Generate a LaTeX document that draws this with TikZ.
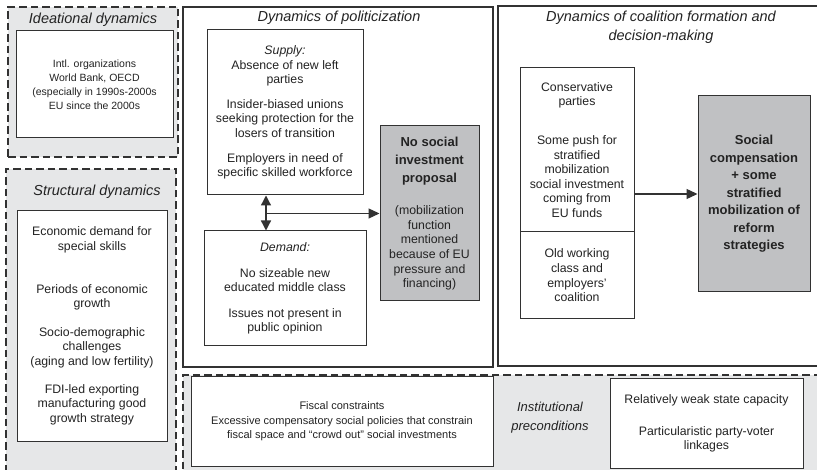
\documentclass[tikz,border=0pt]{standalone}
\usepackage{fontspec}
\setmainfont{Liberation Sans}
\usetikzlibrary{arrows.meta}
\definecolor{panelgray}{RGB}{230,231,232}
\definecolor{boxgray}{RGB}{192,193,195}
\definecolor{edgegray}{RGB}{50,50,50}
\definecolor{inkgray}{RGB}{35,35,35}
\newcommand{\bigbf}[1]{{\bfseries\fontsize{13}{17.5}\selectfont #1}}
\tikzset{
  panel/.style={draw=edgegray, line width=1.1pt, dash pattern=on 7.5pt off 4pt, fill=panelgray},
  frame/.style={draw=edgegray, line width=1.1pt, fill=white},
  box/.style={draw=edgegray, line width=1pt, fill=white, text=inkgray, align=center, inner sep=2pt, font=\fontsize{12.3}{14.6}\selectfont},
  result/.style={box, fill=boxgray},
  title/.style={text=inkgray, align=center, font=\itshape\fontsize{14.5}{19}\selectfont},
  flow/.style={draw=edgegray, line width=1.3pt, -{Triangle[length=11pt,width=10pt]}},
  link/.style={draw=edgegray, line width=1.3pt, {Triangle[length=10pt,width=10pt]}-{Triangle[length=10pt,width=10pt]}},
}

\begin{document}
\begin{tikzpicture}[x=1pt, y=-1pt]
    \useasboundingbox (0,0) rectangle (817,470);
    \node[panel, minimum width=170pt, minimum height=150pt] (ideational) at (93,82) {};
    \node[panel, minimum width=170pt, minimum height=330pt] (structural) at (91,334) {};
    \node[panel, minimum width=650pt, minimum height=120pt] (institutional) at (508,435) {};
    \node[frame, minimum width=310pt, minimum height=360pt] (politicization) at (338,187) {};
    \node[frame, minimum width=326pt, minimum height=360pt] (coalition) at (661,186) {};

    \node[title] (ideatitle) at (93,20) {Ideational dynamics};
    \node[title] (structtitle) at (97,192) {Structural dynamics};
    \node[title] (polititle) at (339,18) {Dynamics of politicization};
    \node[title] (coaltitle) at (661,27.5) {Dynamics of coalition formation and\\ decision-making};
    \node[title, font=\itshape\fontsize{13}{19}\selectfont] (insttitle) at (550,417.5) {Institutional\\ preconditions};

    \node[box, font=\fontsize{10.5}{14}\selectfont, minimum width=157pt, minimum height=107pt] (intlorg) at (94.5,84.5) {Intl. organizations\\ World Bank, OECD\\ (especially in 1990s-2000s\\ EU since the 2000s};
    \node[box, minimum width=150pt, minimum height=230pt] (skills) at (92,326) {Economic demand for\\ special skills\\[28pt] Periods of economic\\ growth\\[14pt] Socio-demographic\\ challenges\\ (aging and low fertility)\\[13pt] FDI-led exporting\\ manufacturing good\\ growth strategy};

    \node[box, minimum width=156pt, minimum height=165pt] (supply) at (285,112.5) {\textit{Supply:}\\ Absence of new left\\ parties\\[10pt] Insider-biased unions\\ seeking protection for the\\ losers of transition\\[10pt] Employers in need of\\ specific skilled workforce};
    \node[box, minimum width=162pt, minimum height=115pt] (demand) at (285,288.5) {\textit{Demand:}\\[11pt] No sizeable new\\ educated middle class\\[11pt] Issues not present in\\ public opinion};
    \node[result, minimum width=99pt, minimum height=175pt] (nosocinv) at (429.5,213.5) {\bigbf{No social}\\[3.4pt] \bigbf{investment}\\[3.4pt] \bigbf{proposal}\\[18pt] (mobilization\\ function\\ mentioned\\ because of EU\\ pressure and\\ financing)};

    \node[box, minimum width=114pt, minimum height=164pt] (conservative) at (577,150) {Conservative\\ parties\\[24pt] Some push for\\ stratified\\ mobilization\\ social investment\\ coming from\\ EU funds};
    \node[box, minimum width=114pt, minimum height=87pt] (oldclass) at (577,275.5) {Old working\\ class and\\ employers'\\ coalition};
    \node[result, font=\bfseries\fontsize{13}{17.5}\selectfont, minimum width=112pt, minimum height=196pt] (compensation) at (754,194) {Social\\ compensation\\ + some\\ stratified\\ mobilization of\\ reform\\ strategies};

    \node[box, font=\fontsize{11}{14.5}\selectfont, minimum width=302pt, minimum height=89pt] (fiscal) at (342,421.5) {Fiscal constraints\\ Excessive compensatory social policies that constrain\\ fiscal space and ``crowd out'' social investments};
    \node[box, minimum width=193pt, minimum height=90pt] (statecap) at (706.5,423.5) {Relatively weak state capacity\\[17pt] Particularistic party-voter\\ linkages};

    \coordinate (fork) at (266,213.5);
    \draw[link] (supply.south -| fork) -- (demand.north -| fork);
    \draw[flow] (fork) -- (fork -| nosocinv.west);
    \draw[flow] (compensation.west -| conservative.east) -- (compensation.west);
\end{tikzpicture}
\end{document}
